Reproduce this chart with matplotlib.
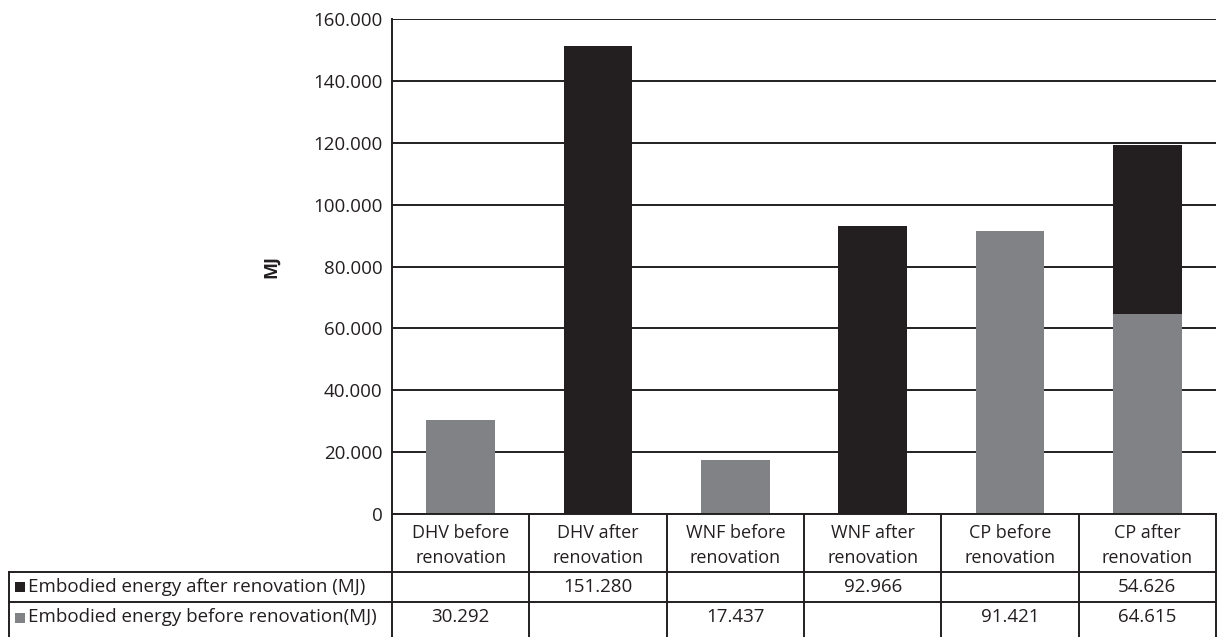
import matplotlib
matplotlib.use("Agg")
import matplotlib.pyplot as plt
from matplotlib.lines import Line2D
from matplotlib.patches import Rectangle

plt.rcParams['font.family'] = ['Open Sans', 'DejaVu Sans']

categories = ["DHV before\nrenovation", "DHV after\nrenovation", "WNF before\nrenovation",
              "WNF after\nrenovation", "CP before\nrenovation", "CP after\nrenovation"]
series_names = ["Embodied energy after renovation (MJ)",
                "Embodied energy before renovation(MJ)"]
after_vals = [None, 151.280, None, 92.966, None, 54.626]
before_vals = [30.292, None, 17.437, None, 91.421, 64.615]
yticks = [0, 20, 40, 60, 80, 100, 120, 140, 160]
ytick_labels = ["0", "20.000", "40.000", "60.000", "80.000", "100.000", "120.000", "140.000", "160.000"]

DARK = "#231f20"
GRAY = "#818285"

W, H = 1217, 637
fig = plt.figure(figsize=(W / 100, H / 100), dpi=100)
fig.patch.set_facecolor("white")


def fx(px):
    return px / W


def fy(py):
    return 1 - py / H


ax = fig.add_axes([fx(392), fy(514), fx(1216) - fx(392), fy(19) - fy(514)])
ax.set_xlim(-0.5, len(categories) - 0.5)
ax.set_ylim(0, 160)

xs = list(range(len(categories)))
bvals = [v if v is not None else 0 for v in before_vals]
avals = [v if v is not None else 0 for v in after_vals]
ax.bar(xs, bvals, width=0.5, color=GRAY, zorder=3)
ax.bar(xs, avals, width=0.5, bottom=bvals, color=DARK, zorder=3)

ax.set_yticks(yticks)
ax.set_yticklabels(ytick_labels, fontsize=13.5, color=DARK)
ax.tick_params(axis='y', length=0, pad=7)
ax.set_xticks([])
ax.yaxis.grid(True, color=DARK, linewidth=1.4, zorder=1)
ax.set_axisbelow(True)
for s in ["top", "bottom", "right"]:
    ax.spines[s].set_visible(False)
ax.spines["left"].set_color(DARK)
ax.spines["left"].set_linewidth(1.4)

fig.text(fx(271), fy(266), "MJ", rotation=90, fontsize=13, fontweight="bold",
         color=DARK, ha="center", va="center")

# data table below the plot
lw = 1.4


def fline(x0, y0, x1, y1):
    fig.add_artist(Line2D([fx(x0), fx(x1)], [fy(y0), fy(y1)], color=DARK,
                          linewidth=lw, transform=fig.transFigure))


def col_px(v):
    return ax.transData.transform((v, 0))[0]


edges = [col_px(i - 0.5) for i in range(len(categories) + 1)]
row_top, row1, row2, row_bot = 514, 572, 602, 637
fline(392, row_top, 1217, row_top)
fline(9, row1, 1217, row1)
fline(9, row2, 1217, row2)
fline(9, row1, 9, row_bot)
for e in edges:
    fline(e, row_top, e, row_bot)

for i, cat in enumerate(categories):
    cx = col_px(i)
    fig.text(fx(cx), fy((row_top + row1) / 2 + 2.5), cat, ha="center", va="center",
             fontsize=13, color=DARK, linespacing=1.45)

row_mid = [(row1 + row2) / 2, (row2 + row_bot) / 2 - 2]
row_vals = [after_vals, before_vals]
row_cols = [DARK, GRAY]
for r in range(2):
    y = row_mid[r]
    fig.add_artist(Rectangle((fx(15), fy(y + 5)), fx(10), fy(0) - fy(10),
                             facecolor=row_cols[r], edgecolor="none",
                             transform=fig.transFigure))
    fig.text(fx(28), fy(y), series_names[r], ha="left", va="center",
             fontsize=13.5, color=DARK)
    for i, v in enumerate(row_vals[r]):
        if v is not None:
            fig.text(fx(col_px(i)), fy(y), f"{v:.3f}", ha="center", va="center",
                     fontsize=13.5, color=DARK)

fig.savefig("out.png", dpi=100, facecolor="white")
